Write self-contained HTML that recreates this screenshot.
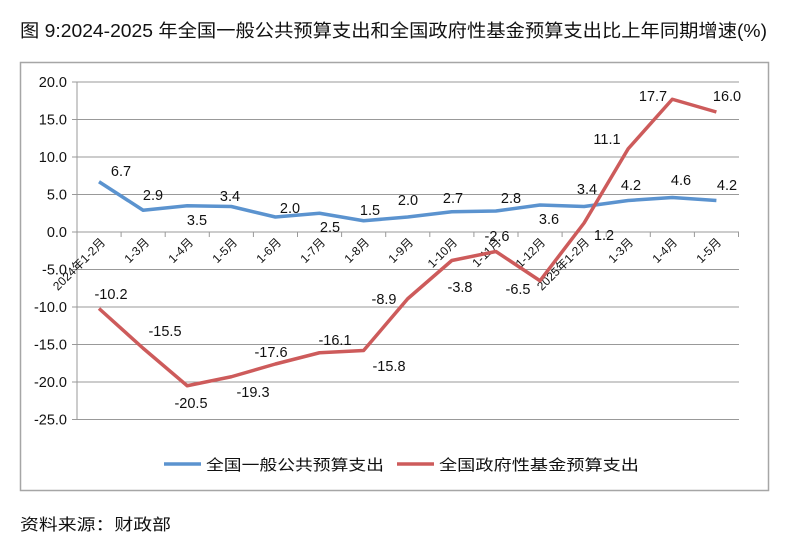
<!DOCTYPE html>
<html><head><meta charset="utf-8"><style>
html,body{margin:0;padding:0;background:#fff;width:800px;height:555px;overflow:hidden}
text{font-family:"Liberation Sans","Noto Sans CJK SC",sans-serif;fill:#111}
</style></head><body>
<svg width="800" height="555" viewBox="0 0 800 555" xmlns="http://www.w3.org/2000/svg">
<text x="20" y="37" font-size="18" textLength="747" lengthAdjust="spacingAndGlyphs">图 9:2024-2025 年全国一般公共预算支出和全国政府性基金预算支出比上年同期增速(%)</text>
<rect x="20.5" y="62.5" width="748" height="428" fill="none" stroke="#a6a6a6" stroke-width="1.5"/>
<g stroke="#999" stroke-width="1">
<line x1="72" y1="82" x2="739" y2="82"/>
<line x1="72" y1="119.5" x2="739" y2="119.5"/>
<line x1="72" y1="157" x2="739" y2="157"/>
<line x1="72" y1="194.5" x2="739" y2="194.5"/>
<line x1="72" y1="269.5" x2="739" y2="269.5"/>
<line x1="72" y1="307" x2="739" y2="307"/>
<line x1="72" y1="344.5" x2="739" y2="344.5"/>
<line x1="72" y1="382" x2="739" y2="382"/>
<line x1="72" y1="419.5" x2="739" y2="419.5"/>
<line x1="77" y1="82" x2="77" y2="419.5"/>
<line x1="72" y1="232" x2="739" y2="232"/>
</g>
<g stroke="#999" stroke-width="1">
<line x1="121.1" y1="232" x2="121.1" y2="237"/><line x1="165.2" y1="232" x2="165.2" y2="237"/><line x1="209.3" y1="232" x2="209.3" y2="237"/><line x1="253.4" y1="232" x2="253.4" y2="237"/><line x1="297.5" y1="232" x2="297.5" y2="237"/><line x1="341.6" y1="232" x2="341.6" y2="237"/><line x1="385.7" y1="232" x2="385.7" y2="237"/><line x1="429.8" y1="232" x2="429.8" y2="237"/><line x1="473.9" y1="232" x2="473.9" y2="237"/><line x1="518" y1="232" x2="518" y2="237"/><line x1="562.1" y1="232" x2="562.1" y2="237"/><line x1="606.2" y1="232" x2="606.2" y2="237"/><line x1="650.3" y1="232" x2="650.3" y2="237"/><line x1="694.4" y1="232" x2="694.4" y2="237"/><line x1="738.5" y1="232" x2="738.5" y2="237"/>
</g>
<g font-size="14.5" text-anchor="end">
<text x="67" y="87">20.0</text><text x="67" y="124.5">15.0</text><text x="67" y="162">10.0</text><text x="67" y="199.5">5.0</text><text x="67" y="237">0.0</text><text x="67" y="274.5">-5.0</text><text x="67" y="312">-10.0</text><text x="67" y="349.5">-15.0</text><text x="67" y="387">-20.0</text><text x="67" y="424.5">-25.0</text>
</g>
<g font-size="12" text-anchor="end">
<text transform="translate(106,243) rotate(-45)">2024年1-2月</text>
<text transform="translate(150,243) rotate(-45)">1-3月</text>
<text transform="translate(194,243) rotate(-45)">1-4月</text>
<text transform="translate(238,243) rotate(-45)">1-5月</text>
<text transform="translate(282,243) rotate(-45)">1-6月</text>
<text transform="translate(326,243) rotate(-45)">1-7月</text>
<text transform="translate(370,243) rotate(-45)">1-8月</text>
<text transform="translate(414,243) rotate(-45)">1-9月</text>
<text transform="translate(458,243) rotate(-45)">1-10月</text>
<text transform="translate(502,243) rotate(-45)">1-11月</text>
<text transform="translate(546,243) rotate(-45)">1-12月</text>
<text transform="translate(590,243) rotate(-45)">2025年1-2月</text>
<text transform="translate(634,243) rotate(-45)">1-3月</text>
<text transform="translate(678,243) rotate(-45)">1-4月</text>
<text transform="translate(722,243) rotate(-45)">1-5月</text>
</g>
<polyline fill="none" stroke="#5b93cf" stroke-width="3.5" stroke-linejoin="round" points="99,181.75 143.1,210.25 187.2,205.75 231.3,206.5 275.4,217 319.5,213.25 363.6,220.75 407.7,217 451.8,211.75 495.9,211 540,205 584.1,206.5 628.2,200.5 672.3,197.5 716.4,200.5"/>
<polyline fill="none" stroke="#cd5b5b" stroke-width="3.5" stroke-linejoin="round" points="99,308.5 143.1,348.25 187.2,385.75 231.3,376.75 275.4,364 319.5,352.75 363.6,350.5 407.7,298.75 451.8,260.5 495.9,251.5 540,280.75 584.1,223 628.2,148.75 672.3,99.25 716.4,112"/>
<g font-size="14.5" text-anchor="middle">
<text x="121" y="176">6.7</text><text x="153" y="200">2.9</text><text x="197" y="225">3.5</text><text x="230" y="201">3.4</text><text x="290" y="213">2.0</text><text x="330" y="232">2.5</text><text x="370" y="215">1.5</text><text x="408" y="205">2.0</text><text x="453" y="203">2.7</text><text x="511" y="203">2.8</text><text x="549" y="224">3.6</text><text x="587" y="194">3.4</text><text x="631" y="190">4.2</text><text x="681" y="185">4.6</text><text x="727" y="190">4.2</text>
<text x="111" y="299">-10.2</text><text x="165" y="336">-15.5</text><text x="191" y="408">-20.5</text><text x="253" y="397">-19.3</text><text x="271" y="357">-17.6</text><text x="335" y="345">-16.1</text><text x="389" y="371">-15.8</text><text x="384" y="304">-8.9</text><text x="460" y="292">-3.8</text><text x="497" y="241">-2.6</text><text x="518" y="294">-6.5</text><text x="604" y="240">1.2</text><text x="607" y="144">11.1</text><text x="653" y="101">17.7</text><text x="727" y="101">16.0</text>
</g>
<line x1="164" y1="464" x2="201" y2="464" stroke="#5b93cf" stroke-width="3.5"/>
<text x="206" y="470" font-size="15" textLength="178" lengthAdjust="spacingAndGlyphs">全国一般公共预算支出</text>
<line x1="397" y1="464" x2="434" y2="464" stroke="#cd5b5b" stroke-width="3.5"/>
<text x="439" y="470" font-size="15" textLength="200" lengthAdjust="spacingAndGlyphs">全国政府性基金预算支出</text>
<text x="20" y="530" font-size="16" textLength="151" lengthAdjust="spacingAndGlyphs">资料来源：财政部</text>
</svg>
</body></html>
